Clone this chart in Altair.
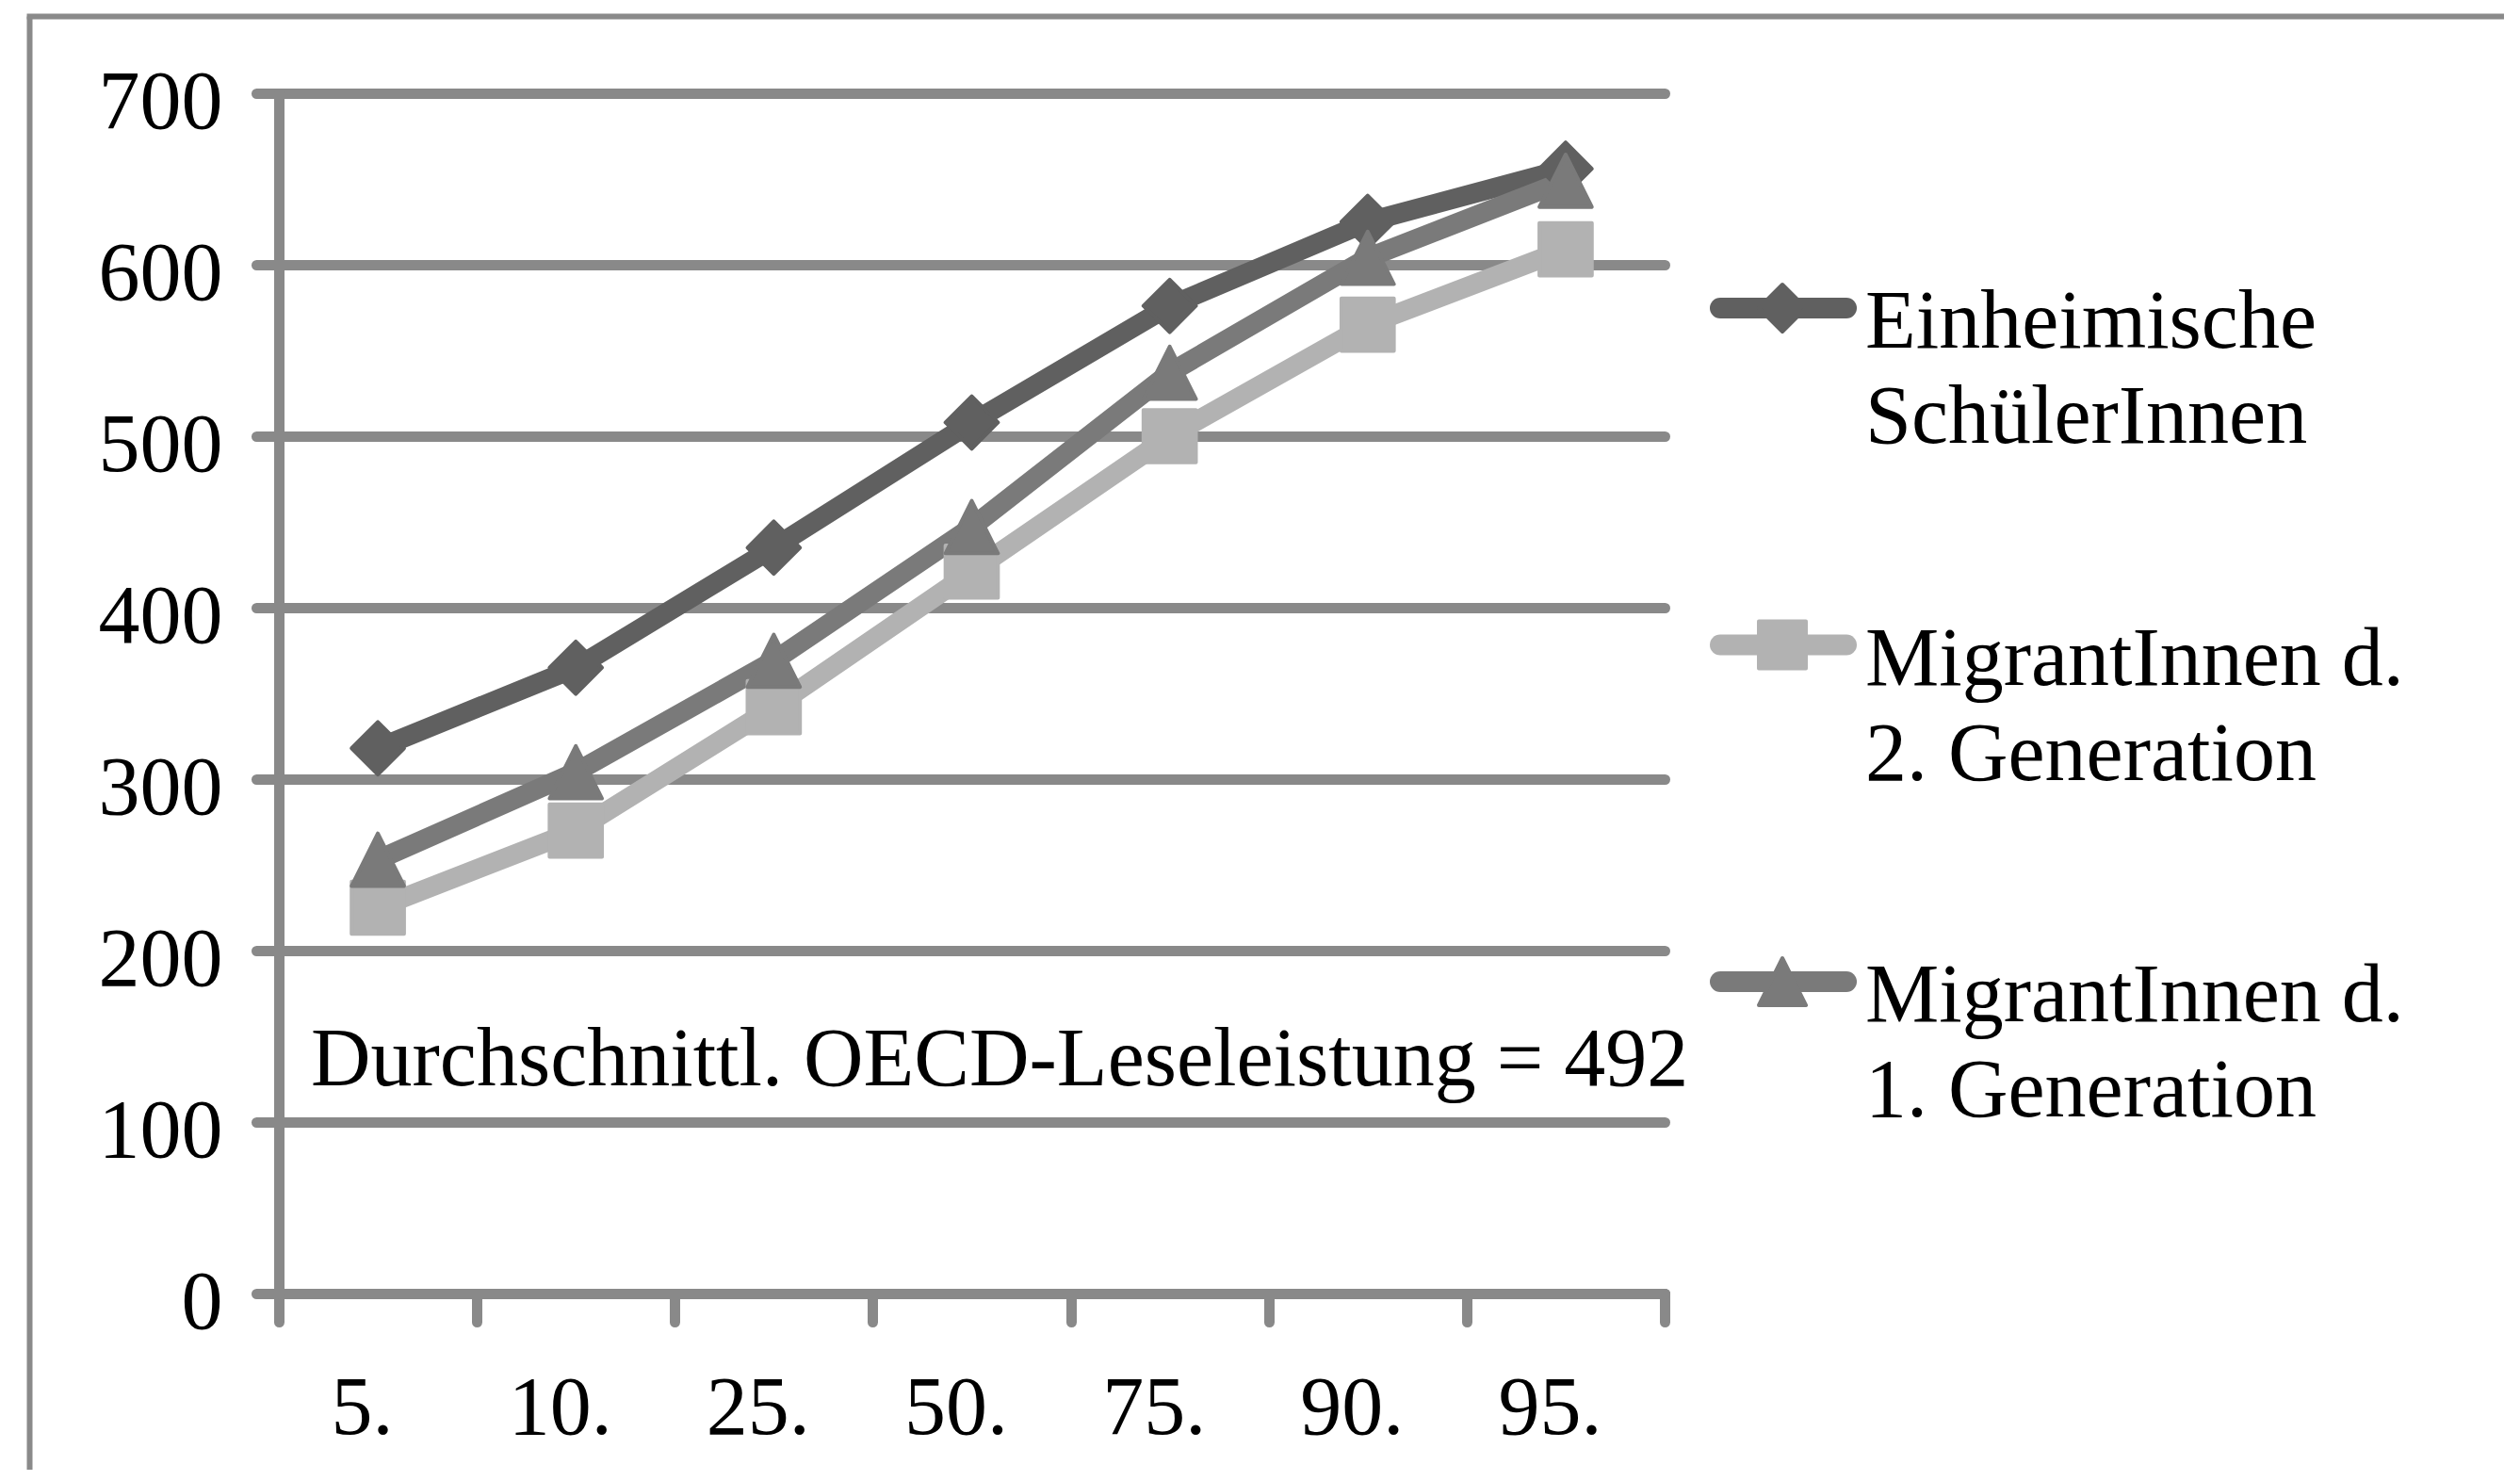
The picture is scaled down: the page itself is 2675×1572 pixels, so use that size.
import altair as alt
import pandas as pd

percentiles = ["5.", "10.", "25.", "50.", "75.", "90.", "95."]
series = [
    "Einheimische SchülerInnen",
    "MigrantInnen d. 2. Generation",
    "MigrantInnen d. 1. Generation",
]
legend_lines = [
    "Einheimische\nSchülerInnen",
    "MigrantInnen d.\n2. Generation",
    "MigrantInnen d.\n1. Generation",
]
einheimische = [318, 365, 435, 508, 576, 625, 656]
gen2 = [225, 270, 342, 421, 500, 565, 609]
gen1 = [253, 304, 369, 447, 537, 604, 649]
y_ticks = [0, 100, 200, 300, 400, 500, 600, 700]
annotation = ["Durchschnittl. OECD-Leseleistung = 492"]
annotation_value = [121.6]

colors = ["#606060", "#b2b2b2", "#7a7a7a"]
shapes = ["diamond", "square", "M0,-1L1,1L-1,1Z"]
GRID = "#898989"
FONT = "Liberation Serif"
FS = 88

rows = []
for name, vals in zip(series, [einheimische, gen2, gen1]):
    for p, v in zip(percentiles, vals):
        rows.append({"series": name, "pct": p, "value": v})
df = pd.DataFrame(rows)
legend_df = pd.DataFrame({"series": series, "label": legend_lines})
ann_df = pd.DataFrame({"text": annotation, "value": annotation_value})
one = pd.DataFrame({"k": [0]})

color_scale = alt.Scale(domain=series, range=colors)
shape_scale = alt.Scale(domain=series, range=shapes)

x_enc = alt.X(
    "pct:N",
    sort=percentiles,
    scale=alt.Scale(domain=percentiles, paddingInner=0, paddingOuter=0),
    axis=alt.Axis(
        title=None, labelAngle=0, tickBand="extent", tickSize=30, tickWidth=11,
        tickColor=GRID, tickCap="round", domainColor=GRID, domainWidth=11,
        domainCap="round", labelFontSize=FS, labelFont=FONT, labelColor="black",
        labelPadding=48, labelOffset=-17, grid=False,
    ),
)
y_enc = alt.Y(
    "value:Q",
    scale=alt.Scale(domain=[0, 700], nice=False),
    axis=alt.Axis(
        values=y_ticks, title=None, tickSize=24, tickWidth=11, tickColor=GRID,
        tickCap="round", domainColor=GRID, domainWidth=11, domainCap="round",
        grid=True, gridColor=GRID, gridWidth=11, gridCap="round",
        labelFontSize=FS, labelFont=FONT, labelColor="black",
        labelPadding=36, labelOffset=10,
    ),
)

base = alt.Chart(df)
lines = base.mark_line(strokeWidth=21, strokeJoin="round").encode(
    x=x_enc,
    y=y_enc,
    color=alt.Color("series:N", scale=color_scale, legend=None),
    detail="series:N",
)
points = base.mark_point(
    filled=True, size=3100, opacity=1, strokeWidth=4, strokeJoin="round"
).encode(
    x=alt.X("pct:N", sort=percentiles),
    y=alt.Y("value:Q"),
    color=alt.Color("series:N", scale=color_scale, legend=None),
    stroke=alt.Stroke("series:N", scale=color_scale, legend=None),
    shape=alt.Shape("series:N", scale=shape_scale, legend=None),
)
ann = alt.Chart(ann_df).mark_text(
    font=FONT, fontSize=FS, align="left", baseline="alphabetic", color="black"
).encode(x=alt.value(34), y=alt.Y("value:Q"), text="text:N")

frame_left = alt.Chart(one).mark_rule(color="#8a8a8a", strokeWidth=6).encode(
    x=alt.value(-264.5), y=alt.value(-81.5), y2=alt.value(1461)
)
frame_top = alt.Chart(one).mark_rule(color="#8a8a8a", strokeWidth=6).encode(
    x=alt.value(-267.5), x2=alt.value(2362), y=alt.value(-81.5)
)

main = alt.layer(frame_left, frame_top, lines, points, ann)

leg_y = alt.Y(
    "series:N",
    scale=alt.Scale(type="point", domain=series, range=[228, 943], padding=0),
    axis=None,
)
leg_base = alt.Chart(legend_df)
leg_rule = leg_base.mark_rule(strokeWidth=22, strokeCap="round").encode(
    x=alt.value(1530), x2=alt.value(1664), y=leg_y,
    color=alt.Color("series:N", scale=color_scale, legend=None),
)
leg_pt = leg_base.mark_point(
    filled=True, size=2500, opacity=1, strokeWidth=4, strokeJoin="round"
).encode(
    x=alt.value(1596), y=leg_y,
    color=alt.Color("series:N", scale=color_scale, legend=None),
    stroke=alt.Stroke("series:N", scale=color_scale, legend=None),
    shape=alt.Shape("series:N", scale=shape_scale, legend=None),
)
leg_text = leg_base.mark_text(
    font=FONT, fontSize=FS, align="left", baseline="alphabetic", dy=42,
    lineBreak="\n", lineHeight=101, color="black",
).encode(x=alt.value(1684), y=leg_y, text="label:N")

legend = alt.layer(leg_rule, leg_pt, leg_text)

chart = (
    alt.layer(main, legend)
    .resolve_scale(y="independent")
    .properties(
        width=1471, height=1274,
        padding={"left": 17, "top": 6, "right": 0, "bottom": 0},
        background="white",
    )
    .configure_view(stroke=None)
)

chart.save("out.html", embed_options={"renderer": "svg", "actions": False})
